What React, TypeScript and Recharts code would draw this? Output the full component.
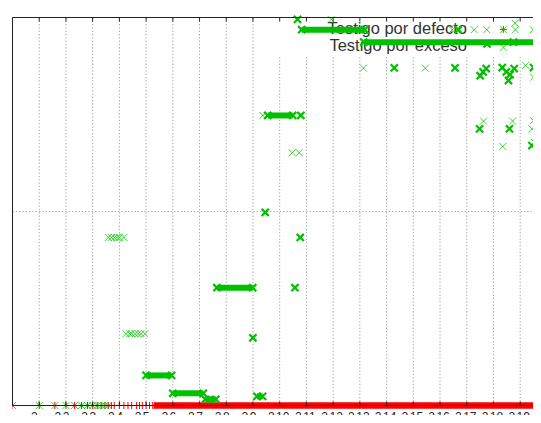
import React from 'react';
import { ComposedChart, Scatter, XAxis, YAxis, CartesianGrid, ReferenceLine } from 'recharts';

// ---------- data ----------
const xTicks = [2, 4, 8, 16, 32, 64, 128, 256, 512, 1024, 2048, 4096, 8192, 16384, 32768, 65536, 131072, 262144, 524288];
const xTickExponents = ['', '2', '3', '4', '5', '6', '7', '8', '9', '10', '11', '12', '13', '14', '15', '16', '17', '18', '19'];
const yTicks = [0, 1, 2];
const xDomain = [1, 1048576];
const yDomain = [0, 2];

const legendLabels = ['Testigo por defecto', 'Testigo por exceso'];

// "Testigo por defecto" (red +)
const defectoPoints = [
  { n: 1, v: 0 }, { n: 2, v: 0 }, { n: 3, v: 0 }, { n: 4, v: 0 }, { n: 5, v: 0 }, { n: 6, v: 0 },
  { n: 7, v: 0 }, { n: 8, v: 0 }, { n: 9, v: 0 }, { n: 10, v: 0 }, { n: 11, v: 0 }, { n: 12, v: 0 },
  { n: 13, v: 0 }, { n: 14, v: 0 }, { n: 16, v: 0 }, { n: 18, v: 0 }, { n: 20, v: 0 }, { n: 22, v: 0 },
  { n: 25, v: 0 }, { n: 27, v: 0 }, { n: 29, v: 0 }, { n: 32, v: 0 }, { n: 35, v: 0 }, { n: 38, v: 0 },
];
// dense, continuous run of red points
const defectoRuns = [{ from: 39, to: 1048576, v: 0 }];

// "Testigo por exceso" (green x), isolated points
const excesoSingle = [
  { n: 1, v: 0 }, { n: 2, v: 0 }, { n: 3, v: 0 }, { n: 4, v: 0 }, { n: 5, v: 0 }, { n: 6, v: 0 },
  { n: 7, v: 0 }, { n: 8, v: 0 }, { n: 9, v: 0 }, { n: 10, v: 0 }, { n: 11, v: 0 }, { n: 12, v: 0 },
  { n: 12, v: 0.866 }, { n: 13, v: 0.866 }, { n: 14, v: 0.866 }, { n: 15, v: 0.866 }, { n: 16, v: 0.866 }, { n: 18, v: 0.866 },
  { n: 19, v: 0.37 }, { n: 21, v: 0.37 }, { n: 22, v: 0.37 }, { n: 24, v: 0.37 }, { n: 26, v: 0.37 }, { n: 28, v: 0.37 }, { n: 31, v: 0.37 },
  { n: 662, v: 1.495 },
  { n: 1417, v: 1.303 }, { n: 1698, v: 1.303 },
  { n: 3894, v: 1.99 },
  { n: 9000, v: 1.739 }, { n: 44800, v: 1.739 },
  { n: 89900, v: 1.937 }, { n: 159000, v: 1.937 }, { n: 220000, v: 1.937 }, { n: 340000, v: 1.937 }, { n: 461000, v: 1.937 }, { n: 736000, v: 1.937 },
  { n: 461000, v: 1.971 },
  { n: 605000, v: 1.753 }, { n: 742000, v: 1.692 },
  { n: 203000, v: 1.466 }, { n: 431000, v: 1.466 }, { n: 742000, v: 1.468 }, { n: 712000, v: 1.426 }, { n: 846000, v: 1.452 },
  { n: 334000, v: 1.335 }, { n: 757000, v: 1.357 },
];

// "Testigo por exceso", repeated / overlapping points
const excesoRepeated = [
  { n: 1626, v: 1.99 },
  { n: 1520, v: 0.607 },
  { n: 511, v: 0.349 },
  { n: 703, v: 0.995 },
  { n: 1745, v: 0.866 },
  { n: 1774, v: 1.495 },
  { n: 20000, v: 1.74 }, { n: 96600, v: 1.74 },
  { n: 105000, v: 1.937 },
  { n: 185700, v: 1.7 }, { n: 200500, v: 1.72 }, { n: 217000, v: 1.737 },
  { n: 329000, v: 1.742 }, { n: 366000, v: 1.72 }, { n: 403000, v: 1.706 }, { n: 449000, v: 1.737 }, { n: 387000, v: 1.675 },
  { n: 742000, v: 1.742 }, { n: 811000, v: 1.675 }, { n: 838000, v: 1.716 },
  { n: 222000, v: 1.864 }, { n: 441000, v: 1.873 }, { n: 811000, v: 1.835 },
  { n: 183000, v: 1.426 }, { n: 397000, v: 1.426 },
  { n: 712000, v: 1.34 },
];

// dense, continuous runs of green points
const excesoRuns = [
  { from: 32, to: 62, v: 0.155 },
  { from: 64, to: 141, v: 0.063 },
  { from: 149, to: 195, v: 0.032 },
  { from: 568, to: 658, v: 0.047 },
  { from: 201, to: 508, v: 0.607 },
  { from: 750, to: 1435, v: 1.495 },
  { from: 1810, to: 9290, v: 1.937 },
  { from: 9050, to: 1048576, v: 1.873 },
];

// ---------- layout ----------
const W = 560;
const H = 430;
const MARGIN = { top: 9.5, right: 21.1, bottom: 2.5, left: 4.5 };
const PLOT_TOP = MARGIN.top;
const GREEN = '#00c000';
const RED = '#ff0000';
const INK = '#222';
const FONT = '"Liberation Sans", Arial, sans-serif';

const crossPath = (cx: number, cy: number, s: number) =>
  `M${cx - s},${cy - s}L${cx + s},${cy + s}M${cx - s},${cy + s}L${cx + s},${cy - s}`;
const plusPath = (cx: number, cy: number, s: number) =>
  `M${cx - s},${cy}L${cx + s},${cy}M${cx},${cy - s}L${cx},${cy + s}`;

const lightX = (p: any) => <path d={crossPath(p.cx, p.cy, 3.5)} stroke={GREEN} strokeOpacity={0.75} strokeWidth={1} fill="none" />;
const darkX = (p: any) => <path d={crossPath(p.cx, p.cy, 3.6)} stroke={GREEN} strokeWidth={2.2} fill="none" />;
const redPlus = (p: any) => <path d={plusPath(p.cx, p.cy, 3.5)} stroke={RED} strokeWidth={1} fill="none" />;
const noMark = () => <g />;
const noTick = () => <g />;

const XTick = (props: any) => {
  const { x, y, payload } = props;
  const idx = xTicks.indexOf(payload.value);
  const exp = xTickExponents[idx] ?? '';
  const off = exp === '' ? -5 : exp.length === 1 ? -4 : -1;
  return (
    <g>
      <line x1={x} x2={x} y1={y} y2={y - 4} stroke={INK} strokeWidth={1} />
      <line x1={x} x2={x} y1={PLOT_TOP} y2={PLOT_TOP + 4} stroke={INK} strokeWidth={1} />
      <text x={x + off} y={y + 15} textAnchor="middle" fontSize={12} fontFamily={FONT} fill={INK}>
        2{exp !== '' && <tspan dx={1.5}>{exp}</tspan>}
      </text>
    </g>
  );
};

const YTick = (props: any) => {
  const { x, y } = props;
  return <line x1={x} x2={x + 4} y1={y} y2={y} stroke={INK} strokeWidth={1} />;
};

const layer: React.CSSProperties = { position: 'absolute', left: 0, top: 0 };

export default function App() {
  const runEnds = excesoRuns.flatMap((r) => [{ n: r.from, v: r.v }, { n: r.to, v: r.v }]);
  const plainX = (tick: any) => (
    <XAxis type="number" dataKey="n" scale="log" domain={xDomain} ticks={xTicks} interval={0} height={30}
      axisLine={false} tickLine={false} tickSize={0} tickMargin={0} tick={tick} allowDataOverflow />
  );
  const plainY = (tick: any) => (
    <YAxis type="number" dataKey="v" domain={yDomain} ticks={yTicks} interval={0} width={0}
      axisLine={false} tickLine={false} tickSize={0} tickMargin={0} tick={tick} />
  );
  return (
    <div style={{ position: 'relative', width: 532, height: 415, overflow: 'hidden', marginBottom: -8, background: '#fff' }}>
      {/* grid layer */}
      <div style={layer}>
        <ComposedChart width={W} height={H} margin={MARGIN}>
          <CartesianGrid stroke="#a4a4a4" strokeDasharray="1.3 2" />
          {plainX(noTick)}
          {plainY(noTick)}
          <Scatter data={defectoPoints} shape={noMark} isAnimationActive={false} />
        </ComposedChart>
      </div>

      {/* key */}
      <div style={{ ...layer, left: 262, top: 9.5, width: 277, height: 37.5, background: '#fff' }} />
      <div style={{ ...layer, left: 0, top: 11.9, width: 459, textAlign: 'right', fontFamily: FONT, fontSize: 16.5, lineHeight: '17.4px', color: '#333', whiteSpace: 'nowrap' }}>
        {legendLabels.map((l) => <div key={l}>{l}</div>)}
      </div>
      <svg style={{ ...layer }} width={532} height={60}>
        <path d={plusPath(495.3, 21.3, 3.5)} stroke={RED} strokeWidth={1} fill="none" />
        <path d={crossPath(495.3, 39.5, 3.5)} stroke={GREEN} strokeOpacity={0.75} strokeWidth={1} fill="none" />
      </svg>

      {/* data layer */}
      <div style={layer}>
        <ComposedChart width={W} height={H} margin={MARGIN}>
          {plainX(false)}
          {plainY(false)}
          {defectoRuns.map((r, i) => (
            <ReferenceLine key={'dr' + i} segment={[{ x: r.from, y: r.v }, { x: r.to, y: r.v }]}
              stroke={RED} strokeWidth={6.5} ifOverflow="visible" />
          ))}
          <Scatter data={defectoPoints} shape={redPlus} isAnimationActive={false} />
          {excesoRuns.map((r, i) => (
            <ReferenceLine key={'er' + i} segment={[{ x: r.from, y: r.v }, { x: r.to, y: r.v }]}
              stroke={GREEN} strokeWidth={6} ifOverflow="visible" />
          ))}
          <Scatter data={runEnds} shape={darkX} isAnimationActive={false} />
          <Scatter data={excesoSingle} shape={lightX} isAnimationActive={false} />
          <Scatter data={excesoRepeated} shape={darkX} isAnimationActive={false} />
        </ComposedChart>
      </div>

      {/* border & axes layer */}
      <div style={layer}>
        <ComposedChart width={W} height={H} margin={MARGIN}>
          {plainX(XTick)}
          {plainY(YTick)}
          <Scatter data={defectoPoints} shape={noMark} isAnimationActive={false} />
          <ReferenceLine x={1} stroke={INK} strokeWidth={1} ifOverflow="visible" />
          <ReferenceLine y={2} stroke={INK} strokeWidth={1} ifOverflow="visible" />
          <ReferenceLine y={0} stroke={INK} strokeWidth={1} ifOverflow="visible" />
          <ReferenceLine x={1048576} stroke={INK} strokeWidth={1} ifOverflow="visible" />
        </ComposedChart>
      </div>
    </div>
  );
}
